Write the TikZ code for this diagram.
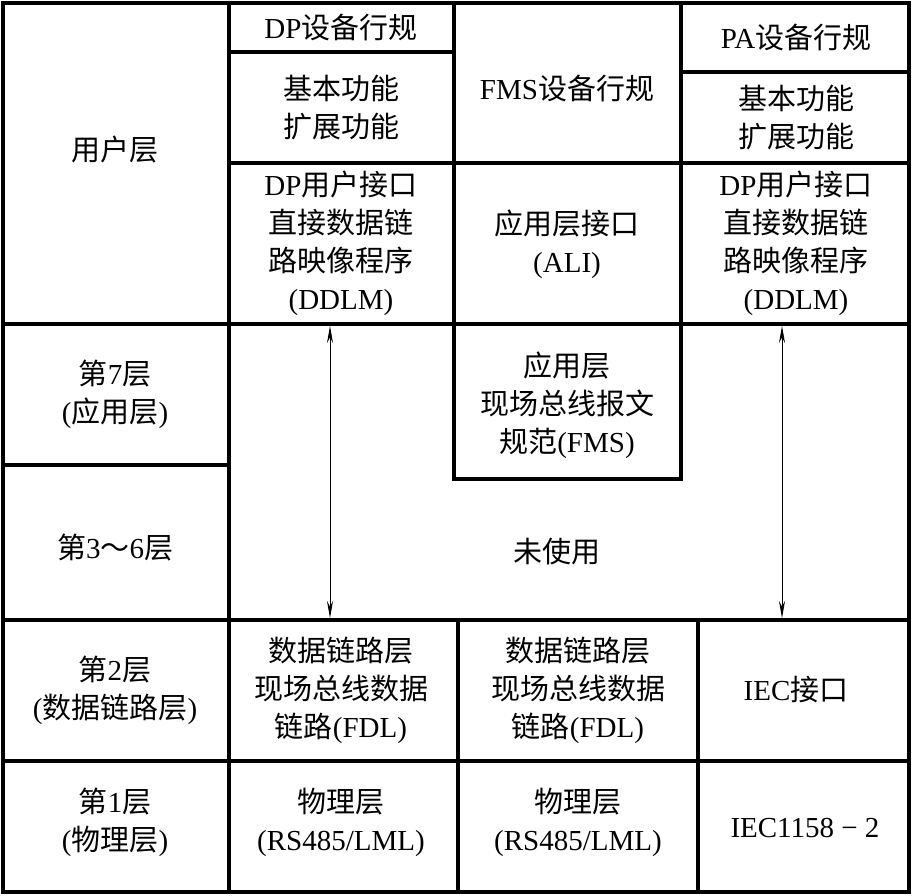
\documentclass[tikz,border=0pt]{standalone}
\usepackage{fontspec}
\setmainfont{Liberation Serif}
\newfontfamily\cjk{Noto Sans CJK SC}
\newcommand{\zhtxt}[1]{{\cjk #1}}
\usepackage{tikz}
\usetikzlibrary{arrows.meta}

\begin{document}
\begin{tikzpicture}[x=1pt, y=-1pt,
  grid/.style={line width=3.5pt, line cap=rect},
  lbl/.style={align=center, inner sep=0pt, font=\fontsize{29}{38}\selectfont},
  span/.style={{Stealth[length=17pt,width=6pt]}-{Stealth[length=17pt,width=6pt]}, line width=0.9pt}]
\useasboundingbox (0,0) rectangle (912,895);
% outer frame
\draw[grid] (3,3) rectangle (909,892);
% first column
\draw[grid] (229,3) -- (229,892);
% user layer columns
\draw[grid] (454,3) -- (454,324);
\draw[grid] (681,3) -- (681,324);
\draw[grid] (229,52) -- (454,52);
\draw[grid] (681,72) -- (909,72);
\draw[grid] (229,163) -- (909,163);
% layer rows
\draw[grid] (3,324) -- (909,324);
\draw[grid] (3,465) -- (229,465);
\draw[grid] (3,620) -- (909,620);
\draw[grid] (3,761) -- (909,761);
% FMS box
\draw[grid] (454,324) -- (454,479) -- (681,479) -- (681,324);
% lower columns
\draw[grid] (458,620) -- (458,892);
\draw[grid] (698,620) -- (698,892);

% left column
\node[lbl] (user) at (115,150) {\zhtxt{用户层}};
\node[lbl] (l7) at (115,394) {\zhtxt{第}7\zhtxt{层}\\(\zhtxt{应用层})};
\node[lbl] (l36) at (115,548) {\zhtxt{第}3\zhtxt{～}6\zhtxt{层}};
\node[lbl] (l2) at (115,690) {\zhtxt{第}2\zhtxt{层}\\(\zhtxt{数据链路层})};
\node[lbl] (l1) at (115,822) {\zhtxt{第}1\zhtxt{层}\\(\zhtxt{物理层})};
% user layer
\node[lbl] (dpprof) at (341,27) {DP\zhtxt{设备行规}};
\node[lbl] (dpfunc) at (341,108) {\zhtxt{基本功能}\\\zhtxt{扩展功能}};
\node[lbl] (fmsprof) at (567,88) {FMS\zhtxt{设备行规}};
\node[lbl] (paprof) at (796,37) {PA\zhtxt{设备行规}};
\node[lbl] (pafunc) at (796,118) {\zhtxt{基本功能}\\\zhtxt{扩展功能}};
\node[lbl] (dpddlm) at (341,243) {DP\zhtxt{用户接口}\\\zhtxt{直接数据链}\\\zhtxt{路映像程序}\\(DDLM)};
\node[lbl] (ali) at (567,244) {\zhtxt{应用层接口}\\(ALI)};
\node[lbl] (paddlm) at (796,243) {DP\zhtxt{用户接口}\\\zhtxt{直接数据链}\\\zhtxt{路映像程序}\\(DDLM)};
% layer 7 and unused
\node[lbl] (fms) at (567,405) {\zhtxt{应用层}\\\zhtxt{现场总线报文}\\\zhtxt{规范}(FMS)};
\node[lbl] (unused) at (557,552) {\zhtxt{未使用}};
% layer 2
\node[lbl] (fdla) at (341,690) {\zhtxt{数据链路层}\\\zhtxt{现场总线数据}\\\zhtxt{链路}(FDL)};
\node[lbl] (fdlb) at (578,690) {\zhtxt{数据链路层}\\\zhtxt{现场总线数据}\\\zhtxt{链路}(FDL)};
\node[lbl] (iec) at (796,690) {IEC\zhtxt{接口}};
% layer 1
\node[lbl] (phya) at (341,822) {\zhtxt{物理层}\\(RS485/LML)};
\node[lbl] (phyb) at (578,822) {\zhtxt{物理层}\\(RS485/LML)};
\node[lbl] (iecphy) at (805,828) {IEC1158 − 2};

% spans across unused layers
\coordinate (dptop) at (330,326);
\coordinate (dpbot) at (330,618);
\coordinate (patop) at (782,326);
\coordinate (pabot) at (782,618);
\draw[span] (dptop) -- (dpbot);
\draw[span] (patop) -- (pabot);
\end{tikzpicture}
\end{document}
